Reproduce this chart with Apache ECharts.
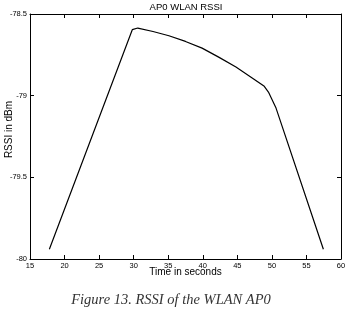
<!DOCTYPE html>
<html>
<head>
<meta charset="utf-8">
<script src="https://cdn.jsdelivr.net/npm/echarts@6/dist/echarts.min.js"></script>
<style>
  html, body { margin: 0; padding: 0; background: #fff; }
  #main { width: 349px; height: 314px; }
</style>
</head>
<body>
<div id="main"></div>
<script>
// time (s) and RSSI (dBm)
var timeSec = [17.8, 29.8, 30.6, 32.8, 35.1, 37.5, 39.9, 42.3, 44.8, 47.2, 48.9, 49.5, 50.6, 57.45];
var rssiDbm = [-79.94, -78.596, -78.586, -78.607, -78.633, -78.668, -78.709, -78.764, -78.825, -78.893, -78.943, -78.978, -79.076, -79.94];
var xTicks = [15, 20, 25, 30, 35, 40, 45, 50, 55, 60];
var yTicks = [-80, -79.5, -79, -78.5];

var points = timeSec.map(function (t, i) { return [t, rssiDbm[i]]; });

var chart = echarts.init(document.getElementById('main'), null, { renderer: 'canvas' });

var labelFont = { fontFamily: 'Liberation Sans', fontSize: 7.5, color: '#000' };
var axisLine = { show: true, lineStyle: { color: '#000', width: 1 } };
var tick = { show: true, inside: true, length: 4, lineStyle: { color: '#000' } };

var option = {
  backgroundColor: '#fff',
  animation: false,
  title: [
    {
      text: 'AP0 WLAN RSSI',
      left: 186, top: 2, textAlign: 'center', padding: 0,
      textStyle: { fontFamily: 'Liberation Sans', fontSize: 9.5, fontWeight: 'normal', color: '#000' }
    },
    {
      text: 'Figure 13. RSSI of the WLAN AP0',
      left: 171, top: 293, textAlign: 'center', padding: 0,
      textStyle: { fontFamily: 'Liberation Serif', fontSize: 14.5, fontStyle: 'italic', fontWeight: 'normal', color: '#333' }
    }
  ],
  grid: { left: 30, right: 8, top: 14, bottom: 55, containLabel: false, outerBoundsMode: 'none' },
  xAxis: [
    {
      type: 'value', min: 15, max: 60, interval: 5, position: 'bottom',
      name: 'Time in seconds', nameLocation: 'middle', nameGap: 8, nameMoveOverlap: false,
      nameTextStyle: { fontFamily: 'Liberation Sans', fontSize: 10, color: '#000' },
      axisLine: axisLine, axisTick: tick,
      axisLabel: Object.assign({ margin: 3, formatter: function (v) { return xTicks.indexOf(v) >= 0 ? String(v) : ''; } }, labelFont),
      splitLine: { show: false }
    },
    {
      type: 'value', min: 15, max: 60, interval: 5, position: 'top',
      axisLine: axisLine, axisTick: tick, axisLabel: { show: false }, splitLine: { show: false }
    }
  ],
  yAxis: [
    {
      type: 'value', min: -80, max: -78.5, interval: 0.5, position: 'left',
      name: 'RSSI in dBm', nameLocation: 'middle', nameGap: 16, nameMoveOverlap: false,
      nameTextStyle: { fontFamily: 'Liberation Sans', fontSize: 10, color: '#000', padding: [0, 0, 0, 14] },
      axisLine: axisLine, axisTick: tick,
      axisLabel: Object.assign({ margin: 3, formatter: function (v) { return yTicks.indexOf(v) >= 0 ? String(v) : ''; } }, labelFont),
      splitLine: { show: false }
    },
    {
      type: 'value', min: -80, max: -78.5, interval: 0.5, position: 'right',
      axisLine: axisLine, axisTick: tick, axisLabel: { show: false }, splitLine: { show: false }
    }
  ],
  series: [
    {
      type: 'line',
      xAxisIndex: 0, yAxisIndex: 0,
      data: points,
      showSymbol: false,
      smooth: false,
      lineStyle: { color: '#000', width: 1.2 }
    }
  ]
};

chart.setOption(option);
</script>
</body>
</html>
